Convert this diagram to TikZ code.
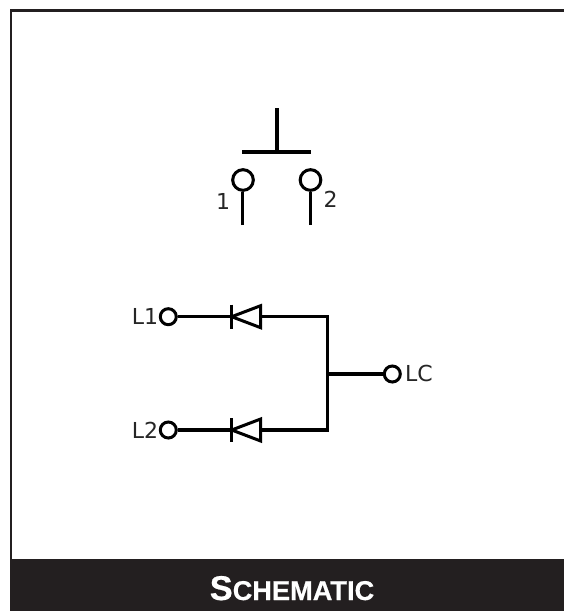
\documentclass[tikz,border=0pt]{standalone}
\usepackage{fontspec}
\usetikzlibrary{calc}
\setmainfont{DejaVu Sans}
\newfontfamily\titlefont[BoldFeatures={FakeBold=0.5}]{Liberation Sans}
\definecolor{bandc}{HTML}{231F20}
\tikzset{
  x=0.75pt,y=-0.75pt,
  wire/.style={draw=black,line width=2.26pt,line cap=butt},
  term/.style={circle,draw=black,line width=2.26pt,fill=white,minimum size=12pt,inner sep=0pt},
  bigterm/.style={circle,draw=black,line width=2.26pt,fill=white,minimum size=15.5pt,inner sep=0pt},
  lbl/.style={font=\fontsize{16.5pt}{16.5pt}\selectfont,inner sep=0pt,text=black!85},
  diodebody/.style={draw=black,line width=2.26pt,line join=miter,fill=white},
}
\begin{document}
\begin{tikzpicture}
\useasboundingbox (0,0) rectangle (564,611);
\fill[white] (0,0) rectangle (564,611);
% frame
\fill[bandc] (10,9) rectangle (564,11.5);
\fill[bandc] (10,9) rectangle (12.2,560);
\fill[bandc] (10,559) rectangle (564,611);
\node[inner sep=0pt,text=white,anchor=base] (title) at (292,600)
  {\titlefont\bfseries\fontsize{25.8pt}{25.8pt}\selectfont S\fontsize{20.4pt}{20.4pt}\selectfont CHEMATIC};
% switch
\coordinate (pt) at (277,108);
\coordinate (pm) at (277,152);
\coordinate (pl) at (242,152);
\coordinate (pr) at (311,152);
\draw[wire] (pt) -- (pm);
\draw[wire] (pl) -- (pr);
\node[bigterm] (s1) at (243,180) {};
\node[bigterm] (s2) at (310.5,180) {};
\coordinate (s1e) at (242.3,225);
\coordinate (s2e) at (310.5,225);
\draw[wire] (s1e) -- (s1e |- s1.south);
\draw[wire] (s2e) -- (s2.south);
\node[lbl] (n1) at (223,201) {1};
\node[lbl] (n2) at (330.5,199) {2};
% terminals
\node[term] (l1) at (168.3,316.7) {};
\node[term] (l2) at (168.3,430) {};
\node[term] (lc) at (392.3,374) {};
\node[lbl] (tl1) at (145,316) {L1};
\node[lbl] (tl2) at (145,430) {L2};
\node[lbl] (tlc) at (419,373) {LC};
% bus
\coordinate (b1) at (327.3,316.7);
\coordinate (b2) at (327.3,430);
\coordinate (bm) at (327.3,374);
\coordinate (d1c) at (231.7,316.7);
\coordinate (d2c) at (231.7,430);
\coordinate (d1a) at (260.7,316.7);
\coordinate (d2a) at (260.7,430);
\draw[wire] (l1) -- (d1c);
\draw[wire] (l2) -- (d2c);
\draw[wire,line join=miter] (d1a) -- (b1) -- (b2) -- (d2a);
\draw[wire] (bm) -- (lc);
% diodes
\draw[diodebody] (d1c) -- ($(d1a)+(0,-11)$) -- ($(d1a)+(0,11)$) -- cycle;
\draw[diodebody] (d2c) -- ($(d2a)+(0,-11)$) -- ($(d2a)+(0,11)$) -- cycle;
\draw[wire] ($(d1c)+(0,-12)$) -- ($(d1c)+(0,12)$);
\draw[wire] ($(d2c)+(0,-12)$) -- ($(d2c)+(0,12)$);
\end{tikzpicture}
\end{document}
